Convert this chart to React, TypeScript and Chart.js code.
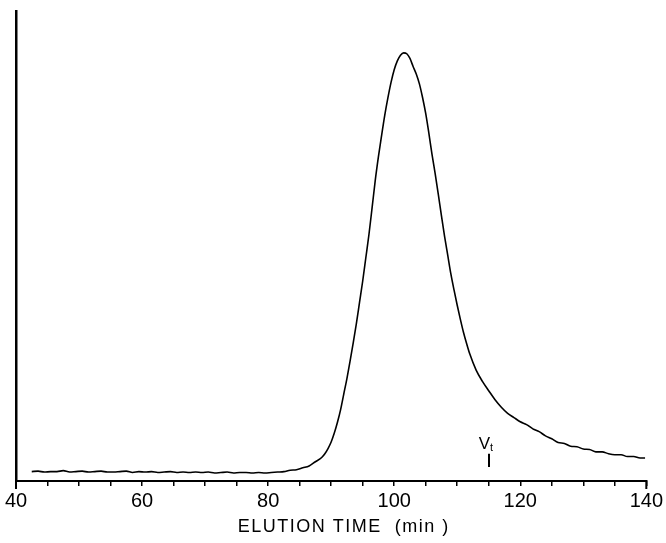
import { useEffect, useRef } from "react";
import { Chart, registerables } from "chart.js";

Chart.register(...registerables);

// Elution time (min)
const elutionTime = [
  42.5, 43.5, 44.5, 45.5, 46.5, 47.5, 48.5, 49.5, 50.5, 51.5, 52.5, 53.5, 54.5, 55.5, 56.5,
  57.5, 58.5, 59.5, 60.5, 61.5, 62.5, 63.5, 64.5, 65.5, 66.5, 67.5, 68.5, 69.5, 70.5, 71.5,
  72.5, 73.5, 74.5, 75.5, 76.5, 77.5, 78.5, 79.5, 80.5, 81.5, 82.5, 83.5, 84.5, 85.5, 86.5,
  87.5, 88.5, 89, 89.5, 90, 90.5, 91, 91.5, 92, 92.5, 93, 93.5, 94, 94.5, 95, 95.5, 96, 96.5,
  97, 97.5, 98, 98.5, 99, 99.5, 100, 100.5, 101, 101.5, 102, 102.5, 103, 103.5, 104, 104.5,
  105, 105.5, 106, 106.5, 107, 107.5, 108, 108.5, 109, 109.5, 110, 110.5, 111, 111.5, 112,
  113, 114, 115, 116, 117, 118, 119, 120, 121, 122, 123, 124, 125, 126, 127, 128, 129, 130,
  131, 132, 133, 134, 135, 136, 137, 138, 139, 139.8,
];

// Detector response (arbitrary units, axis top = 100)
const response = [
  2.0, 2.1, 1.9, 2.0, 2.0, 2.2, 1.9, 2.0, 2.1, 1.9, 2.0, 2.1, 1.9, 1.9, 2.0,
  2.1, 1.8, 2.0, 1.9, 2.0, 1.8, 1.9, 2.0, 1.8, 1.9, 1.8, 1.9, 1.8, 1.9, 1.7,
  1.8, 1.9, 1.7, 1.8, 1.8, 1.7, 1.8, 1.7, 1.8, 1.9, 2.0, 2.3, 2.4, 2.8, 3.2,
  4.1, 5.0, 5.8, 6.9, 8.3, 10.2, 12.5, 15.2, 18.5, 21.8, 25.5, 29.4, 33.5, 38.0, 42.5, 47.5, 52.5, 58.2,
  64.0, 69.0, 73.5, 77.8, 81.5, 84.8, 87.5, 89.4, 90.6, 91.1, 90.9, 89.9, 88.2, 86.6, 84.5, 81.6,
  78.2, 74.0, 69.5, 65.4, 61.0, 56.4, 52.0, 48.0, 44.0, 40.6, 37.4, 34.4, 31.6, 29.2, 27.0,
  23.6, 21.2, 19.2, 17.3, 15.7, 14.4, 13.5, 12.6, 12.0, 11.1, 10.5, 9.6, 9.0, 8.2, 8.0, 7.4, 7.3, 6.8,
  6.7, 6.2, 6.2, 5.8, 5.6, 5.6, 5.2, 5.2, 4.9, 4.9,
];

const xMin = 40;
const xMax = 140;
const xLabelStep = 20;
const xTickStep = 5;
const yMin = 0;
const yMax = 100;
const xAxisTitle = "ELUTION TIME  (min )";
const xTitleCenter = 92;

// Total volume marker (V_t)
const vtTime = 115;
const vtBarLow = 3.0;
const vtBarHigh = 5.8;

const decorPlugin = {
  id: "decor",
  afterDraw(chart: any) {
    const { ctx, chartArea } = chart;
    const x = chart.scales.x;
    const y = chart.scales.y;
    ctx.save();
    ctx.strokeStyle = "#000";
    ctx.fillStyle = "#000";
    // longer end ticks at axis ends
    ctx.lineWidth = 2;
    for (const v of [xMin, xMax]) {
      const px = x.getPixelForValue(v);
      ctx.beginPath();
      ctx.moveTo(px, chartArea.bottom);
      ctx.lineTo(px, chartArea.bottom + 8);
      ctx.stroke();
    }
    // V_t marker
    const vx = Math.round(x.getPixelForValue(vtTime));
    const yTop = y.getPixelForValue(vtBarHigh);
    const yBot = y.getPixelForValue(vtBarLow);
    ctx.lineWidth = 2;
    ctx.beginPath();
    ctx.moveTo(vx, yTop);
    ctx.lineTo(vx, yBot);
    ctx.stroke();
    ctx.textBaseline = "alphabetic";
    ctx.font = "17px 'Liberation Sans', Arial, sans-serif";
    ctx.textAlign = "right";
    ctx.fillText("V", vx + 1, yTop - 5);
    ctx.font = "11px 'Liberation Sans', Arial, sans-serif";
    ctx.textAlign = "left";
    ctx.fillText("t", vx + 1, yTop - 3);
    // axis title
    ctx.font = "18px 'Liberation Sans', Arial, sans-serif";
    (ctx as any).letterSpacing = "1.5px";
    ctx.textAlign = "center";
    ctx.textBaseline = "middle";
    ctx.fillText(xAxisTitle, x.getPixelForValue(xTitleCenter), 527);
    ctx.restore();
  },
};

export default function App() {
  const ref = useRef<HTMLCanvasElement | null>(null);

  useEffect(() => {
    if (!ref.current) return;
    const points = elutionTime.map((t, i) => ({ x: t, y: response[i] }));
    const chart = new Chart(ref.current, {
      type: "line",
      data: {
        datasets: [
          {
            data: points,
            borderColor: "#000",
            borderWidth: 1.6,
            pointRadius: 0,
            fill: false,
            cubicInterpolationMode: "monotone",
          },
        ],
      },
      options: {
        responsive: false,
        animation: false,
        devicePixelRatio: 1,
        layout: { padding: { left: 16, right: 12, top: 11, bottom: 27 } },
        plugins: { legend: { display: false }, tooltip: { enabled: false } },
        scales: {
          x: {
            type: "linear",
            min: xMin,
            max: xMax,
            grid: {
              drawOnChartArea: false,
              drawTicks: true,
              tickLength: 5,
              color: "#000",
              lineWidth: 1.5,
            },
            border: { display: true, color: "#000", width: 2 },
            ticks: {
              stepSize: xTickStep,
              autoSkip: false,
              maxRotation: 0,
              padding: 3,
              color: "#000",
              font: { family: "'Liberation Sans', Arial, sans-serif", size: 20 },
              callback: (v: any) => (Number(v) % xLabelStep === 0 ? String(v) : ""),
            },
          },
          y: {
            min: yMin,
            max: yMax,
            grid: { display: false, drawTicks: false },
            border: { display: true, color: "#000", width: 2.5 },
            ticks: { display: false },
          },
        },
      },
      plugins: [decorPlugin],
    });
    return () => chart.destroy();
  }, []);

  return (
    <div style={{ position: "absolute", left: 0, top: 0, width: 666, height: 543, background: "#fff" }}>
      <canvas ref={ref} width={666} height={543} style={{ display: "block" }} />
    </div>
  );
}
